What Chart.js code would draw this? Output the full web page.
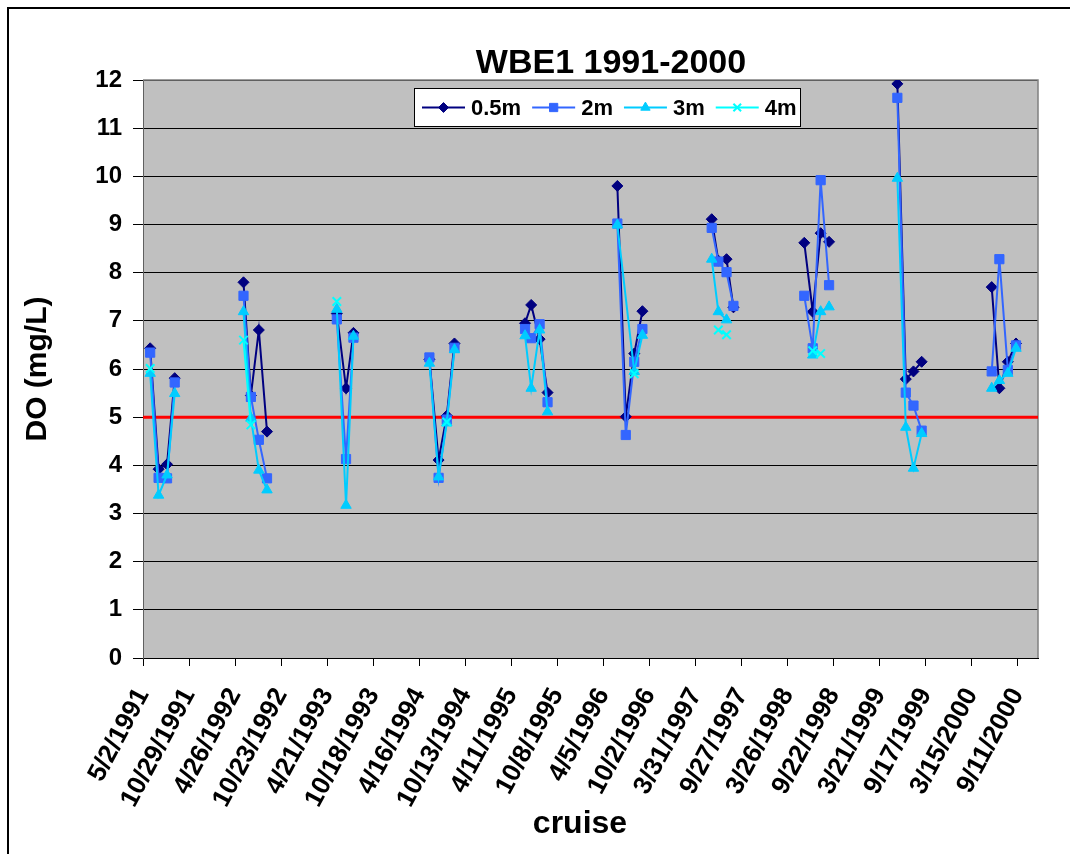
<!DOCTYPE html>
<html>
<head>
<meta charset="utf-8">
<script src="https://cdn.jsdelivr.net/npm/chart.js@4.4.0/dist/chart.umd.min.js"></script>
<style>
html,body{margin:0;padding:0;background:#fff;}
#wrap{width:1070px;height:854px;position:relative;}
</style>
</head>
<body>
<div id="wrap"><canvas id="c" width="1070" height="854"></canvas></div>
<script>
// ---------- DATA ----------
const chartTitle = 'WBE1 1991-2000';
const yTitle = 'DO (mg/L)';
const xTitle = 'cruise';
const seriesNames = ['0.5m', '2m', '3m', '4m'];

const xTickLabels = ['5/2/1991','10/29/1991','4/26/1992','10/23/1992','4/21/1993','10/18/1993',
  '4/16/1994','10/13/1994','4/11/1995','10/8/1995','4/5/1996','10/2/1996','3/31/1997',
  '9/27/1997','3/26/1998','9/22/1998','3/21/1999','9/17/1999','3/15/2000','9/11/2000'];
const xStart = '5/2/1991';
const xEnd = '11/30/2000';

const cruiseDates = [
  '5/30/1991','7/2/1991','8/4/1991','9/3/1991',
  '5/29/1992','6/27/1992','7/28/1992','8/29/1992',
  '5/29/1993','7/4/1993','8/2/1993',
  '5/26/1994','7/1/1994','8/2/1994','9/1/1994',
  '6/4/1995','6/28/1995','7/31/1995','8/31/1995',
  '5/30/1996','7/2/1996','8/4/1996','9/5/1996',
  '6/3/1997','6/29/1997','7/31/1997','8/27/1997',
  '5/31/1998','7/3/1998','8/3/1998','9/5/1998',
  '5/30/1999','7/2/1999','8/1/1999','9/2/1999',
  '6/2/2000','7/2/2000','8/4/2000','9/5/2000'
];

const do05m = [
  6.43, 3.92, 4.02, 5.81,
  7.80, 5.45, 6.81, 4.70,
  7.15, 5.60, 6.75,
  6.20, 4.11, 5.03, 6.53,
  6.95, 7.33, 6.62, 5.51,
  9.80, 5.01, 6.32, 7.20,
  9.11, 8.25, 8.28, 7.28,
  8.62, 7.19, 8.82, 8.64,
  11.92, 5.79, 5.95, 6.15,
  7.70, 5.60, 6.15, 6.53
];
const do2m = [
  6.34, 3.74, 3.73, 5.72,
  7.52, 5.42, 4.53, 3.73,
  7.03, 4.13, 6.65,
  6.24, 3.74, 4.95, 6.44,
  6.83, 6.64, 6.93, 5.31,
  9.02, 4.63, 6.15, 6.83,
  8.93, 8.23, 8.01, 7.31,
  7.52, 6.43, 9.92, 7.74,
  11.63, 5.51, 5.24, 4.72,
  5.95, 8.28, 5.98, 6.49
];
const do3m = [
  5.91, 3.38, 3.80, 5.49,
  7.19, 4.98, 3.90, 3.49,
  7.24, 3.17, 6.68,
  6.12, 3.76, 4.88, 6.40,
  6.69, 5.60, 6.81, 5.11,
  8.99, null, 5.95, 6.70,
  8.28, 7.19, 7.02, null,
  null, 6.29, 7.19, 7.29,
  9.96, 4.79, 3.94, 4.66,
  5.60, 5.76, 5.91, 6.43
];
const do4m = [
  6.01, null, null, null,
  6.60, 4.84, null, null,
  7.40, null, null,
  null, null, 4.90, null,
  null, null, null, null,
  null, null, 5.90, null,
  null, 6.81, 6.71, null,
  null, 6.38, 6.32, null,
  null, null, null, null,
  null, null, null, null
];
const criterion = 5;

// ---------- BUILD ----------
function dayNum(s) {
  const p = s.split('/').map(Number);
  return Date.UTC(p[2], p[0] - 1, p[1]) / 86400000;
}
const xMin = dayNum(xStart), xMax = dayNum(xEnd);
const xs = cruiseDates.map(dayNum);
// keep only sampled cruises for each depth
const pts = arr => arr.map((v, i) => ({x: xs[i], y: v})).filter(p => p.y !== null);
const MAX_GAP_DAYS = 100; // cruises of different seasons are not joined

const FONT = "'Liberation Sans', Arial, Helvetica, sans-serif";
const styles = [
  {color: '#000080', pointStyle: 'rectRot', radius: 5.5, pbw: 1},
  {color: '#3366FF', pointStyle: 'rect', radius: 6.5, pbw: 1},
  {color: '#00CCFF', pointStyle: 'triangle', radius: 6, pbw: 1},
  {color: '#00FFFF', pointStyle: 'crossRot', radius: 6, pbw: 2}
];
const seriesData = [do05m, do2m, do3m, do4m];

const datasets = seriesData.map((arr, i) => ({
  label: seriesNames[i],
  data: pts(arr),
  borderColor: styles[i].color,
  backgroundColor: styles[i].color,
  pointBackgroundColor: styles[i].color,
  pointBorderColor: styles[i].color,
  pointStyle: styles[i].pointStyle,
  pointRadius: styles[i].radius,
  pointHoverRadius: styles[i].radius,
  pointBorderWidth: styles[i].pbw,
  borderWidth: 2,
  tension: 0,
  segment: {
    borderColor: ctx => (ctx.p1.parsed.x - ctx.p0.parsed.x > MAX_GAP_DAYS ? 'rgba(0,0,0,0)' : styles[i].color)
  },
  order: 3 - i
}));
datasets.push({
  label: 'criterion',
  data: [{x: xMin, y: criterion}, {x: xMax, y: criterion}],
  borderColor: '#FF0000',
  borderWidth: 3,
  pointRadius: 0,
  order: 10
});

function drawMarker(ctx, style, x, y, r) {
  ctx.save();
  ctx.fillStyle = style.color;
  ctx.strokeStyle = style.color;
  ctx.lineWidth = style.pbw;
  ctx.beginPath();
  if (style.pointStyle === 'rectRot') {
    ctx.moveTo(x, y - r); ctx.lineTo(x + r, y); ctx.lineTo(x, y + r); ctx.lineTo(x - r, y); ctx.closePath();
    ctx.fill(); ctx.stroke();
  } else if (style.pointStyle === 'rect') {
    const s = r * Math.SQRT1_2;
    ctx.rect(x - s, y - s, 2 * s, 2 * s); ctx.fill(); ctx.stroke();
  } else if (style.pointStyle === 'triangle') {
    ctx.moveTo(x, y - r);
    ctx.lineTo(x + r * Math.sin(2 * Math.PI / 3), y - r * Math.cos(2 * Math.PI / 3));
    ctx.lineTo(x - r * Math.sin(2 * Math.PI / 3), y - r * Math.cos(2 * Math.PI / 3));
    ctx.closePath(); ctx.fill(); ctx.stroke();
  } else {
    const s = r * Math.SQRT1_2;
    ctx.moveTo(x - s, y - s); ctx.lineTo(x + s, y + s);
    ctx.moveTo(x + s, y - s); ctx.lineTo(x - s, y + s);
    ctx.stroke();
  }
  ctx.restore();
}

const framePlugin = {
  id: 'frame',
  beforeDraw(chart) {
    const ctx = chart.ctx, a = chart.chartArea;
    ctx.save();
    ctx.fillStyle = '#FFFFFF';
    ctx.fillRect(0, 0, chart.width, chart.height);
    ctx.strokeStyle = '#000';
    ctx.lineWidth = 2;
    ctx.strokeRect(8, 8, chart.width + 20, chart.height + 20);
    ctx.fillStyle = '#C0C0C0';
    ctx.fillRect(a.left, a.top, a.right - a.left, a.bottom - a.top);
    ctx.restore();
  },
  beforeDatasetsDraw(chart) {
    const ctx = chart.ctx, a = chart.chartArea;
    ctx.save();
    ctx.strokeStyle = '#808080';
    ctx.lineWidth = 1.5;
    ctx.beginPath();
    ctx.moveTo(a.left, a.top); ctx.lineTo(a.right, a.top); ctx.lineTo(a.right, a.bottom);
    ctx.stroke();
    ctx.restore();
  },
  afterDraw(chart) {
    const ctx = chart.ctx;
    ctx.save();
    // chart title
    ctx.fillStyle = '#000';
    ctx.font = 'bold 34px ' + FONT;
    ctx.textAlign = 'center';
    ctx.textBaseline = 'middle';
    ctx.fillText(chartTitle, 611, 64);
    // x-axis title
    ctx.font = 'bold 32px ' + FONT;
    ctx.textBaseline = 'alphabetic';
    ctx.fillText(xTitle, 580, 833);
    // legend
    const box = {x: 414.5, y: 88.5, w: 386, h: 38};
    ctx.fillStyle = '#FFFFFF';
    ctx.fillRect(box.x, box.y, box.w, box.h);
    ctx.strokeStyle = '#000';
    ctx.lineWidth = 1;
    ctx.strokeRect(box.x, box.y, box.w, box.h);
    ctx.font = 'bold 22px ' + FONT;
    ctx.textAlign = 'left';
    ctx.textBaseline = 'middle';
    const cy = box.y + box.h / 2;
    let x = 422;
    seriesNames.forEach((name, i) => {
      const st = styles[i];
      ctx.strokeStyle = st.color;
      ctx.lineWidth = 2;
      ctx.beginPath(); ctx.moveTo(x, cy); ctx.lineTo(x + 43, cy); ctx.stroke();
      drawMarker(ctx, st, x + 21.5, cy, st.radius * 0.9);
      ctx.fillStyle = '#000';
      ctx.fillText(name, x + 49, cy + 1);
      x += 49 + ctx.measureText(name).width + 11;
    });
    ctx.restore();
  }
};

new Chart(document.getElementById('c'), {
  type: 'line',
  data: {datasets},
  plugins: [framePlugin],
  options: {
    responsive: false,
    animation: false,
    devicePixelRatio: 1,
    layout: {padding: {left: 0, right: 32, top: 80, bottom: 0}},
    plugins: {legend: {display: false}, title: {display: false}, tooltip: {enabled: false}},
    scales: {
      x: {
        type: 'linear',
        min: xMin,
        max: xMax,
        afterBuildTicks: axis => { axis.ticks = xTickLabels.map(l => ({value: dayNum(l)})); },
        afterFit: s => { s.height = 196; },
        ticks: {
          autoSkip: false, minRotation: 62, maxRotation: 62, padding: 17,
          color: '#000', font: {family: FONT, size: 26, weight: 'bold'},
          callback: (v, i) => xTickLabels[i]
        },
        grid: {drawOnChartArea: false, drawTicks: true, tickLength: 8, color: '#000'},
        border: {display: true, color: '#000', width: 1},
        title: {display: false, text: xTitle}
      },
      y: {
        min: 0, max: 12,
        afterFit: s => { s.width = 143; },
        ticks: {stepSize: 1, padding: 11, color: '#000', font: {family: FONT, size: 24, weight: 'bold'}},
        grid: {color: '#000', lineWidth: 1, tickLength: 10},
        border: {display: true, color: '#606060', width: 1},
        title: {display: true, text: yTitle, color: '#000',
          font: {family: FONT, size: 30, weight: 'bold'}, padding: {top: 20, bottom: 0}}
      }
    }
  }
});
</script>
</body>
</html>
